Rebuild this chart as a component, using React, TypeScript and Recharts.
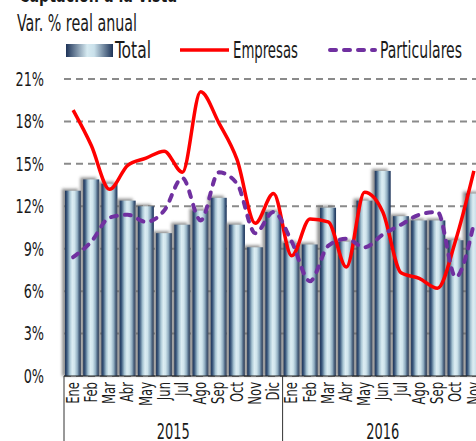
import { ComposedChart, Bar, Line, XAxis, YAxis, CartesianGrid } from 'recharts';

const months2015 = ['Ene', 'Feb', 'Mar', 'Abr', 'May', 'Jun', 'Jul', 'Ago', 'Sep', 'Oct', 'Nov', 'Dic'];
const months2016 = ['Ene', 'Feb', 'Mar', 'Abr', 'May', 'Jun', 'Jul', 'Ago', 'Sep', 'Oct', 'Nov'];
const years = ['2015', '2016'];

const total = [13.1, 13.9, 13.6, 12.4, 12.0, 10.1, 10.7, 11.7, 12.6, 10.7, 9.1, 11.6, 9.4, 9.3, 11.9, 9.5, 12.4, 14.5, 11.3, 11.0, 11.0, 9.6, 12.9];
const empresas = [18.8, 16.3, 13.2, 14.9, 15.4, 15.9, 14.4, 20.1, 17.9, 15.3, 10.8, 12.9, 8.5, 11.1, 10.9, 7.7, 13.0, 11.6, 7.3, 6.9, 6.2, 9.6, 14.5];
const particulares = [8.4, 9.5, 11.2, 11.4, 10.9, 11.7, 14.0, 11.0, 14.4, 13.6, 10.1, 11.6, 9.5, 6.7, 9.2, 9.7, 9.1, 10.0, 10.7, 11.4, 11.6, 7.0, 10.8];
const yTicks = [0, 3, 6, 9, 12, 15, 18, 21];

const data = [
  ...months2015.map((m) => ({ month: m, year: years[0] })),
  ...months2016.map((m) => ({ month: m, year: years[1] })),
].map((d, i) => ({ ...d, total: total[i], empresas: empresas[i], particulares: particulares[i] }));

const FONT = "'DejaVu Sans Condensed', 'DejaVu Sans', sans-serif";
const INK = '#1a1a1a';
const CHART_W = 486;
const CHART_H = 441;
const MARGIN = { top: 79, right: 3, left: 0, bottom: 0 };
const Y_W = 64;
const PLOT_BOTTOM = 376;
const BW = (CHART_W - MARGIN.right - Y_W) / data.length;

const GradientBar = (props: any) => {
  const { x, y, width, height } = props;
  if (!height || height <= 0) return null;
  return (
    <g>
      <rect x={x - 3} y={y - 2} width={width} height={height + 2} fill="#6f6f6f" opacity={0.75} filter="url(#barShadow)" />
      <rect x={x} y={y} width={width} height={height} fill="url(#barGrad)" />
    </g>
  );
};

const YTick = (props: any) => {
  const { x, y, payload } = props;
  return (
    <g transform={`translate(${x},${y}) scale(0.75 1)`}>
      <text x={0} y={0} textAnchor="end" dominantBaseline="central" fontSize={19} fontFamily={FONT} fill={INK}>
        {`${payload.value}%`}
      </text>
    </g>
  );
};

const MonthTick = (props: any) => {
  const { x, y, payload } = props;
  return (
    <g transform={`translate(${x},${y}) rotate(-90) scale(0.76 1)`}>
      <text x={0} y={0} textAnchor="end" dominantBaseline="central" fontSize={17} fontFamily={FONT} fill={INK}>
        {payload.value}
      </text>
    </g>
  );
};

const YearTick = (props: any) => {
  const { x, index } = props;
  let count = 0;
  let label = '';
  if (index === 0) {
    count = months2015.length;
    label = years[0];
  } else if (index === months2015.length) {
    count = months2016.length;
    label = years[1];
  } else return null;
  const left = x - BW / 2;
  return (
    <g>
      <line x1={left} x2={left} y1={PLOT_BOTTOM} y2={CHART_H} stroke="#333" strokeWidth={1} />
      <text
        x={left + (count * BW) / 2}
        y={439}
        textAnchor="middle"
        fontSize={22}
        textLength={33}
        lengthAdjust="spacingAndGlyphs"
        fontFamily={FONT}
        fill={INK}
      >
        {label}
      </text>
    </g>
  );
};

const Header = () => (
  <svg width={476} height={64} style={{ position: 'absolute', top: 0, left: 0, zIndex: 1 }}>
    <defs>
      <linearGradient id="legGrad" x1="0" y1="0" x2="1" y2="0">
        <stop offset="0%" stopColor="#1d3358" />
        <stop offset="45%" stopColor="#d6eaf1" />
        <stop offset="60%" stopColor="#c9e0ea" />
        <stop offset="100%" stopColor="#1d3358" />
      </linearGradient>
    </defs>
    <text x={19} y={2} fontSize={21} fontWeight="bold" textLength={158} lengthAdjust="spacingAndGlyphs" fontFamily={FONT} fill={INK}>
      Captación a la vista
    </text>
    <text x={17} y={31} fontSize={23} textLength={120} lengthAdjust="spacingAndGlyphs" fontFamily={FONT} fill={INK}>
      Var. % real anual
    </text>
    <rect x={66} y={44} width={47} height={13} fill="url(#legGrad)" />
    <text x={115} y={58} fontSize={23} textLength={36} lengthAdjust="spacingAndGlyphs" fontFamily={FONT} fill={INK}>Total</text>
    <line x1={180} x2={229} y1={50} y2={50} stroke="#ff0000" strokeWidth={3.5} />
    <text x={233} y={58} fontSize={23} textLength={65} lengthAdjust="spacingAndGlyphs" fontFamily={FONT} fill={INK}>Empresas</text>
    <line x1={330} x2={375} y1={50} y2={50} stroke="#7030a0" strokeWidth={4} strokeDasharray="6 8" strokeLinecap="round" />
    <text x={380} y={58} fontSize={23} textLength={82} lengthAdjust="spacingAndGlyphs" fontFamily={FONT} fill={INK}>Particulares</text>
  </svg>
);

export default function App() {
  return (
    <div style={{ position: 'fixed', top: 0, left: 0, width: 476, height: 441, overflow: 'hidden', background: '#fff' }}>
      <Header />
      <ComposedChart width={CHART_W} height={CHART_H} data={data} margin={MARGIN} barCategoryGap={0}>
        <defs>
          <linearGradient id="barGrad" x1="0" y1="0" x2="1" y2="0">
            <stop offset="0%" stopColor="#1d3358" />
            <stop offset="12%" stopColor="#3c5a7e" />
            <stop offset="30%" stopColor="#a9c6d4" />
            <stop offset="45%" stopColor="#dcedf3" />
            <stop offset="60%" stopColor="#cfe4ec" />
            <stop offset="78%" stopColor="#8eabbf" />
            <stop offset="90%" stopColor="#3d5a7e" />
            <stop offset="100%" stopColor="#1d3358" />
          </linearGradient>
          <filter id="barShadow" x="-50%" y="-50%" width="200%" height="200%">
            <feGaussianBlur stdDeviation="1.5" />
          </filter>
        </defs>
        <CartesianGrid vertical={false} stroke="#8a8a8a" strokeWidth={2} strokeDasharray="7 5" />
        <XAxis
          dataKey="month"
          interval={0}
          height={44}
          tickLine={false}
          tickSize={0}
          tickMargin={6}
          axisLine={{ stroke: '#222', strokeWidth: 1 }}
          tick={<MonthTick />}
        />
        <XAxis xAxisId="year" dataKey="year" interval={0} height={21} axisLine={false} tickLine={false} tick={<YearTick />} />
        <YAxis
          domain={[0, 21]}
          ticks={yTicks}
          width={Y_W}
          axisLine={false}
          tickLine={false}
          tickSize={0}
          tickMargin={20}
          tick={<YTick />}
        />
        <Bar dataKey="total" name="Total" barSize={16} shape={<GradientBar />} isAnimationActive={false} />
        <Line
          dataKey="empresas"
          name="Empresas"
          type="monotone"
          stroke="#ff0000"
          strokeWidth={3.5}
          dot={false}
          activeDot={false}
          isAnimationActive={false}
        />
        <Line
          dataKey="particulares"
          name="Particulares"
          type="monotone"
          stroke="#7030a0"
          strokeWidth={4}
          strokeDasharray="6 8"
          strokeLinecap="round"
          dot={false}
          activeDot={false}
          isAnimationActive={false}
        />
      </ComposedChart>
    </div>
  );
}
